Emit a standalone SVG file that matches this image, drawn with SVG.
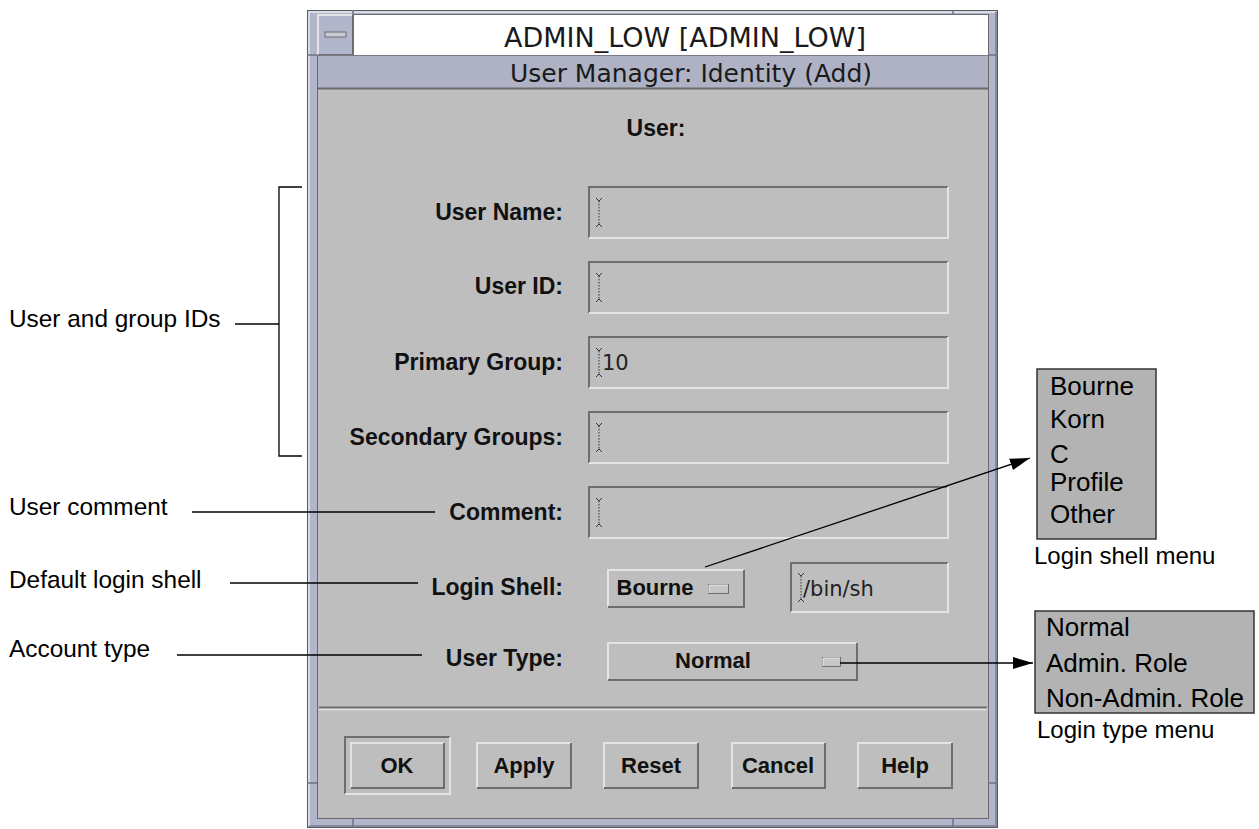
<svg xmlns="http://www.w3.org/2000/svg" width="1259" height="829" viewBox="0 0 1259 829">
<style>
.ann{font-family:"Liberation Sans",Arial,sans-serif;font-size:24.4px;fill:#000}
.cap{font-family:"Liberation Sans",Arial,sans-serif;font-size:24px;fill:#000}
.item{font-family:"Liberation Sans",Arial,sans-serif;font-size:26px;fill:#000}
.lbl{font-family:"Liberation Sans",Arial,sans-serif;font-size:23px;font-weight:bold;fill:#111;text-anchor:end}
.btn{font-family:"Liberation Sans",Arial,sans-serif;font-size:22px;font-weight:bold;fill:#111;text-anchor:middle}
.ttl{font-family:"DejaVu Sans",sans-serif;fill:#1a1a1a;text-anchor:middle}
.val{font-family:"DejaVu Sans",sans-serif;font-size:21px;fill:#222}
.dk{fill:none;stroke:#6e6e6e;stroke-width:2}
.lt{fill:none;stroke:#e4e4e4;stroke-width:2}
.conn{fill:none;stroke:#000;stroke-width:1.3}
.menu{fill:#b3b3b3;stroke:#333;stroke-width:1.5}
</style>
<defs>
<marker id="ah" markerUnits="userSpaceOnUse" markerWidth="22" markerHeight="14" refX="20" refY="7" orient="auto">
<path d="M0,1 L20,7 L0,13 Z" fill="#000"/>
</marker>
<g id="cur">
<path d="M-3,0 l3,3 l3,-3 M-3,29 l3,-3 l3,3" fill="none" stroke="#333" stroke-width="1"/>
<path d="M0,3 V26" fill="none" stroke="#333" stroke-width="1" stroke-dasharray="1.5,1.5"/>
</g>
</defs>
<rect width="1259" height="829" fill="#fff"/>

<g id="window">
<rect x="307.5" y="10.5" width="690" height="817" fill="#b2b6ca" stroke="#5a5a5a"/>
<path d="M309,826 V12 H996" fill="none" stroke="#e6e8f0" stroke-width="1.5"/>
<path d="M996,12 V826 H309" fill="none" stroke="#7a7e92" stroke-width="1.5"/>
<rect x="317.5" y="14.5" width="671" height="804" fill="#bebebe" stroke="#6a6a6a"/>
<rect x="353" y="15" width="635" height="40" fill="#fff"/>
<rect x="318" y="15" width="35" height="40" fill="#b2b6ca"/>
<path d="M318,55 V15 H353" class="lt"/>
<path d="M353,15 V55 H318" class="dk"/>
<rect x="325" y="32" width="21" height="5" fill="#c8cad6" stroke="#6e6e6e" stroke-width="1"/>
<rect x="318" y="55" width="670" height="33" fill="#aeb2c4"/>
<path d="M318,55.5 H988" stroke="#7a7a88" stroke-width="1"/>
<path d="M318,88.5 H988" stroke="#6a6a6a" stroke-width="2"/>
<path d="M353,10 V15 M953,10 V15 M307,55 H317 M988,55 H998 M307,783 H317 M988,783 H998 M353,818 V828 M953,818 V828" stroke="#6e7286" stroke-width="1.5"/>
<text class="ttl" x="685" y="47" font-size="27">ADMIN_LOW [ADMIN_LOW]</text>
<text class="ttl" x="691" y="82" font-size="25">User Manager: Identity (Add)</text>
<text class="lbl" x="656" y="136" style="text-anchor:middle">User:</text>
<path d="M319,707.5 H987" stroke="#6e6e6e" stroke-width="2"/>
<path d="M319,709.5 H987" stroke="#e4e4e4" stroke-width="1.5"/>
</g>

<g id="user-name">
<text class="lbl" x="563" y="220">User Name:</text>
<path class="dk" d="M589,238 V187 H948"/><path class="lt" d="M948,187 V238 H589"/>
<use href="#cur" x="599" y="198"/>
</g>
<g id="user-id">
<text class="lbl" x="563" y="294">User ID:</text>
<path class="dk" d="M589,313 V262 H948"/><path class="lt" d="M948,262 V313 H589"/>
<use href="#cur" x="599" y="273"/>
</g>
<g id="primary-group">
<text class="lbl" x="563" y="370">Primary Group:</text>
<path class="dk" d="M589,388 V337 H948"/><path class="lt" d="M948,337 V388 H589"/>
<use href="#cur" x="599" y="348"/>
<text class="val" x="602" y="370">10</text>
</g>
<g id="secondary-groups">
<text class="lbl" x="563" y="445">Secondary Groups:</text>
<path class="dk" d="M589,463 V412 H948"/><path class="lt" d="M948,412 V463 H589"/>
<use href="#cur" x="599" y="423"/>
</g>
<g id="comment">
<text class="lbl" x="563" y="520">Comment:</text>
<path class="dk" d="M589,538 V487 H948"/><path class="lt" d="M948,487 V538 H589"/>
<use href="#cur" x="599" y="498"/>
</g>
<g id="login-shell">
<text class="lbl" x="563" y="595">Login Shell:</text>
<rect x="608" y="570" width="136" height="37" fill="#bebebe"/>
<path class="lt" d="M608,607 V570 H744"/><path class="dk" d="M744,570 V607 H608"/>
<text class="btn" x="655" y="595">Bourne</text>
<rect x="708.5" y="584.5" width="20" height="9" fill="#c6c6c6" stroke="#6e6e6e" stroke-width="1"/>
<path d="M709,593 V585 H728" stroke="#eee" stroke-width="1" fill="none"/>
<path class="dk" d="M791,612 V563 H948"/><path class="lt" d="M948,563 V612 H791"/>
<use href="#cur" x="801" y="573"/>
<text class="val" x="803" y="596">/bin/sh</text>
</g>
<g id="user-type">
<text class="lbl" x="563" y="666">User Type:</text>
<path class="lt" d="M608,680 V643 H857"/><path class="dk" d="M857,643 V680 H608"/>
<text class="btn" x="713" y="668">Normal</text>
<rect x="822.5" y="657.5" width="18" height="9" fill="#c6c6c6" stroke="#6e6e6e" stroke-width="1"/>
<path d="M823,666 V658 H840" stroke="#eee" stroke-width="1" fill="none"/>
</g>
<g id="btn-ok">
<path class="dk" d="M345,794 V737 H450"/><path class="lt" d="M450,737 V794 H345"/>
<path class="lt" d="M351,788 V743 H444"/><path class="dk" d="M444,743 V788 H351"/>
<text class="btn" x="397" y="773">OK</text>
</g>
<g id="btn-apply">
<path class="lt" d="M477,788 V743 H571"/><path class="dk" d="M571,743 V788 H477"/>
<text class="btn" x="524" y="773">Apply</text>
</g>
<g id="btn-reset">
<path class="lt" d="M604,788 V743 H698"/><path class="dk" d="M698,743 V788 H604"/>
<text class="btn" x="651" y="773">Reset</text>
</g>
<g id="btn-cancel">
<path class="lt" d="M732,788 V743 H825"/><path class="dk" d="M825,743 V788 H732"/>
<text class="btn" x="778" y="773">Cancel</text>
</g>
<g id="btn-help">
<path class="lt" d="M858,788 V743 H952"/><path class="dk" d="M952,743 V788 H858"/>
<text class="btn" x="905" y="773">Help</text>
</g>

<g id="shell-menu">
<rect class="menu" x="1037" y="369" width="119" height="170"/>
<text class="item" x="1050" y="395">Bourne</text>
<text class="item" x="1050" y="428">Korn</text>
<text class="item" x="1050" y="463">C</text>
<text class="item" x="1050" y="491">Profile</text>
<text class="item" x="1050" y="523">Other</text>
<text class="cap" x="1034" y="564">Login shell menu</text>
</g>
<g id="type-menu">
<rect class="menu" x="1035" y="611" width="219" height="102"/>
<text class="item" x="1046" y="636">Normal</text>
<text class="item" x="1046" y="672">Admin. Role</text>
<text class="item" x="1046" y="707">Non-Admin. Role</text>
<text class="cap" x="1037" y="738">Login type menu</text>
</g>
<g id="annotations">
<text class="ann" x="9" y="327">User and group IDs</text>
<text class="ann" x="9" y="515">User comment</text>
<text class="ann" x="9" y="588">Default login shell</text>
<text class="ann" x="9" y="657">Account type</text>
</g>
<g id="connectors">
<path class="conn" d="M302,187 H279 V456 H302"/>
<path class="conn" d="M235,324 H279"/>
<path class="conn" d="M192,512 H435"/>
<path class="conn" d="M230,583 H418"/>
<path class="conn" d="M177,655 H422"/>
<path class="conn" d="M705,567 L1030,458" marker-end="url(#ah)"/>
<path class="conn" d="M840,663 H1033" marker-end="url(#ah)"/>
</g>
</svg>
